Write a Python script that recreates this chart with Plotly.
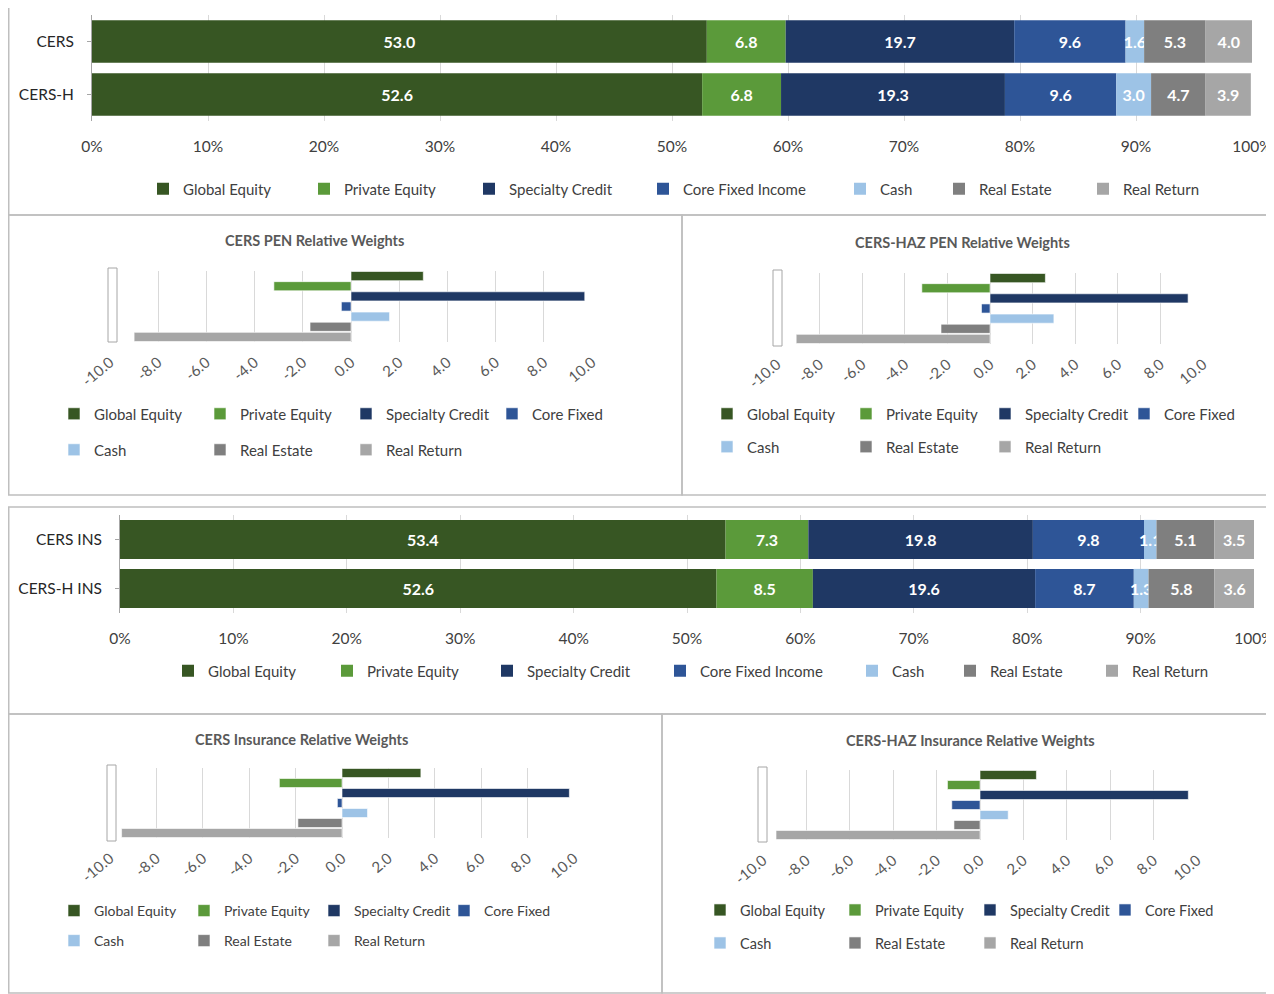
import plotly.graph_objects as go

# page body has an 8px margin, so the figure is 8px smaller and all layout
# positions below are given in reference-picture pixels, shifted by OFF.
OFF = 8
W, H = 1274 - OFF, 994 - OFF

# ---------------- data ----------------
asset_classes = ["Global Equity", "Private Equity", "Specialty Credit", "Core Fixed Income",
                 "Cash", "Real Estate", "Real Return"]
rel_legend_names = ["Global Equity", "Private Equity", "Specialty Credit", "Core Fixed",
                    "Cash", "Real Estate", "Real Return"]
colors = ["#375623", "#5b9a3a", "#1f3864", "#2e5597", "#9dc3e6", "#7f7f7f", "#a6a6a6"]

pen_plans = ["CERS", "CERS-H"]
cers_pen = [53.0, 6.8, 19.7, 9.6, 1.6, 5.3, 4.0]
cersh_pen = [52.6, 6.8, 19.3, 9.6, 3.0, 4.7, 3.9]

ins_plans = ["CERS INS", "CERS-H INS"]
cers_ins = [53.4, 7.3, 19.8, 9.8, 1.1, 5.1, 3.5]
cersh_ins = [52.6, 8.5, 19.6, 8.7, 1.3, 5.8, 3.6]

# relative weights
rel_cers_pen = [3.0, -3.2, 9.7, -0.4, 1.6, -1.7, -9.0]
rel_cersh_pen = [2.6, -3.2, 9.3, -0.4, 3.0, -2.3, -9.1]
rel_cers_ins = [3.4, -2.7, 9.8, -0.2, 1.1, -1.9, -9.5]
rel_cersh_ins = [2.6, -1.5, 9.6, -1.3, 1.3, -1.2, -9.4]

pct_ticks = [0, 10, 20, 30, 40, 50, 60, 70, 80, 90, 100]
pct_labels = ["0%", "10%", "20%", "30%", "40%", "50%", "60%", "70%", "80%", "90%", "100%"]
rel_ticks = [-10, -8, -6, -4, -2, 0, 2, 4, 6, 8, 10]
rel_labels = ["-10.0", "-8.0", "-6.0", "-4.0", "-2.0", "0.0", "2.0", "4.0", "6.0", "8.0", "10.0"]

titles = ["CERS PEN Relative Weights", "CERS-HAZ PEN Relative Weights",
          "CERS Insurance Relative Weights", "CERS-HAZ Insurance Relative Weights"]

FONT = "Lato, 'Open Sans', sans-serif"
TXT = "#404040"
GRID = "#d9d9d9"
FRAME = "#bfbfbf"


def px(x):
    return (x - OFF) / W


def py(y):
    return 1 - (y - OFF) / H


fig = go.Figure()
layout = dict(
    width=W, height=H, margin=dict(l=0, r=0, t=0, b=0, autoexpand=False),
    paper_bgcolor="white", plot_bgcolor="white",
    barmode="relative", bargap=0.2,
    font=dict(family=FONT, color=TXT, size=14),
)

_leg_counter = [0]


def new_legend(x_sq, y_c, ew=None, size=15):
    _leg_counter[0] += 1
    n = _leg_counter[0]
    key = "legend" if n == 1 else f"legend{n}"
    d = dict(orientation="h", x=px(x_sq - 14), y=py(y_c), xanchor="left", yanchor="middle",
             bgcolor="rgba(0,0,0,0)", borderwidth=0, itemwidth=30,
             itemclick=False, itemdoubleclick=False,
             font=dict(size=size, color=TXT, family=FONT), tracegroupgap=0)
    if ew:
        d.update(entrywidth=ew, entrywidthmode="pixels")
    layout[key] = d
    return key


# ---------------- stacked bar panels ----------------
def stacked(xa, ya, plans, s1, s2, leg_x, leg_y):
    for i, name in enumerate(asset_classes):
        vals = [s1[i], s2[i]]
        lg = new_legend(leg_x[i], leg_y)
        fig.add_trace(go.Bar(
            x=vals, y=plans, orientation="h", name=name,
            marker=dict(color=colors[i], line=dict(width=0)),
            text=[f"{v:.1f}" for v in vals], textposition="inside",
            insidetextanchor="middle", textangle=0, constraintext="none",
            textfont=dict(color="white", size=16, family=FONT, weight="bold"),
            xaxis=xa, yaxis=ya, legend=lg, showlegend=True,
            hoverinfo="x+y+name",
        ))


stacked("x", "y", pen_plans, cers_pen, cersh_pen,
        [157, 318, 483, 657, 854, 953, 1097], 189)
stacked("x4", "y4", ins_plans, cers_ins, cersh_ins,
        [182, 341, 501, 674, 866, 964, 1106], 671)


# ---------------- relative weight panels ----------------
def relative(xa, ya, vals, x_sq, ew, y1, y2, size):
    leg_a = new_legend(x_sq, y1, ew, size)
    leg_b = new_legend(x_sq, y2, ew, size)
    for i, name in enumerate(rel_legend_names):
        fig.add_trace(go.Bar(
            x=[vals[i]], y=[rel_legend_names[i]], orientation="h", name=name,
            marker=dict(color=colors[i], line=dict(width=1, color="rgba(255,255,255,0.6)")),
            width=0.9,
            xaxis=xa, yaxis=ya, legend=leg_a if i < 4 else leg_b, showlegend=True,
            hoverinfo="x+name",
        ))


relative("x2", "y2", rel_cers_pen, 68, 101, 414, 450, 15)
relative("x3", "y3", rel_cersh_pen, 721, 94, 414, 447, 15)
relative("x5", "y5", rel_cers_ins, 68, 85, 911, 941, 14)
relative("x6", "y6", rel_cersh_ins, 714, 90, 910, 943, 14.5)


def pct_axes(xname, yname, x0, x1, y0, y1, anchor_x, anchor_y):
    layout[xname] = dict(domain=[px(x0), px(x1)], range=[0, 100], tickvals=pct_ticks,
                         ticktext=pct_labels, showgrid=True, gridcolor=GRID, gridwidth=1,
                         zeroline=False, showline=False, ticks="", anchor=anchor_y,
                         tickfont=dict(size=15.5, color=TXT), fixedrange=True,
                         ticklabelstandoff=14)
    layout[yname] = dict(domain=[py(y1), py(y0)], autorange="reversed", anchor=anchor_x,
                         showline=True, linecolor="#a6a6a6", ticks="outside", ticklen=4,
                         tickcolor="#a6a6a6", showgrid=False, ticklabelstandoff=10,
                         tickfont=dict(size=15.5, color="#262626"), fixedrange=True)


pct_axes("xaxis", "yaxis", 92, 1252, 15, 121, "x", "y")
pct_axes("xaxis4", "yaxis4", 120, 1254, 515, 613, "x4", "y4")


def rel_axes(n, x0, x1, y0, y1):
    layout[f"xaxis{n}"] = dict(domain=[px(x0), px(x1)], range=[-10, 10], tickvals=rel_ticks,
                               ticktext=rel_labels, tickangle=-40, showgrid=True,
                               gridcolor=GRID, gridwidth=1, zeroline=False, showline=False,
                               ticks="", anchor=f"y{n}", fixedrange=True, ticklabelstandoff=8,
                               tickfont=dict(size=15, color="#595959"))
    layout[f"yaxis{n}"] = dict(domain=[py(y1), py(y0)], autorange="reversed",
                               categoryorder="array", categoryarray=rel_legend_names,
                               showticklabels=False, showgrid=False, zeroline=False,
                               showline=False, ticks="", anchor=f"x{n}", fixedrange=True)


rel_axes(2, 110, 592, 271, 342)
rel_axes(3, 777, 1203, 273, 344)
rel_axes(5, 110, 574, 768, 838)
rel_axes(6, 763, 1197, 770, 840)

# panel frames
frames = [(8.75, 7, 1273, 215), (8.75, 215, 682, 495), (682, 215, 1273, 495),
          (8.75, 507, 1273, 714), (8.75, 714, 662, 993), (662, 714, 1273, 993)]
shapes = []
for (a, b, c, d) in frames:
    shapes.append(dict(type="rect", xref="paper", yref="paper", x0=px(a), x1=px(c),
                       y0=py(d), y1=py(b), line=dict(color=FRAME, width=1.5),
                       fillcolor="rgba(0,0,0,0)", layer="below"))
# thin side "walls" of the 3-D relative-weight charts
walls = [(108, 268, 117, 342), (773, 270, 782, 346), (107, 765, 116, 841), (758, 767, 767, 842)]
for (a, b, c, d) in walls:
    shapes.append(dict(type="rect", xref="paper", yref="paper", x0=px(a), x1=px(c),
                       y0=py(d), y1=py(b), line=dict(color="#a6a6a6", width=1),
                       fillcolor="white", layer="below"))
layout["shapes"] = shapes

title_pos = [(314, 240), (962, 242), (301, 739), (970, 740)]
layout["annotations"] = [
    dict(text=t, x=px(x), y=py(y), xref="paper", yref="paper", showarrow=False,
         xanchor="center", yanchor="middle",
         font=dict(size=14.5, color="#595959", family=FONT, weight="bold"))
    for t, (x, y) in zip(titles, title_pos)
]

fig.update_layout(**layout)
fig.write_html("out.html")
